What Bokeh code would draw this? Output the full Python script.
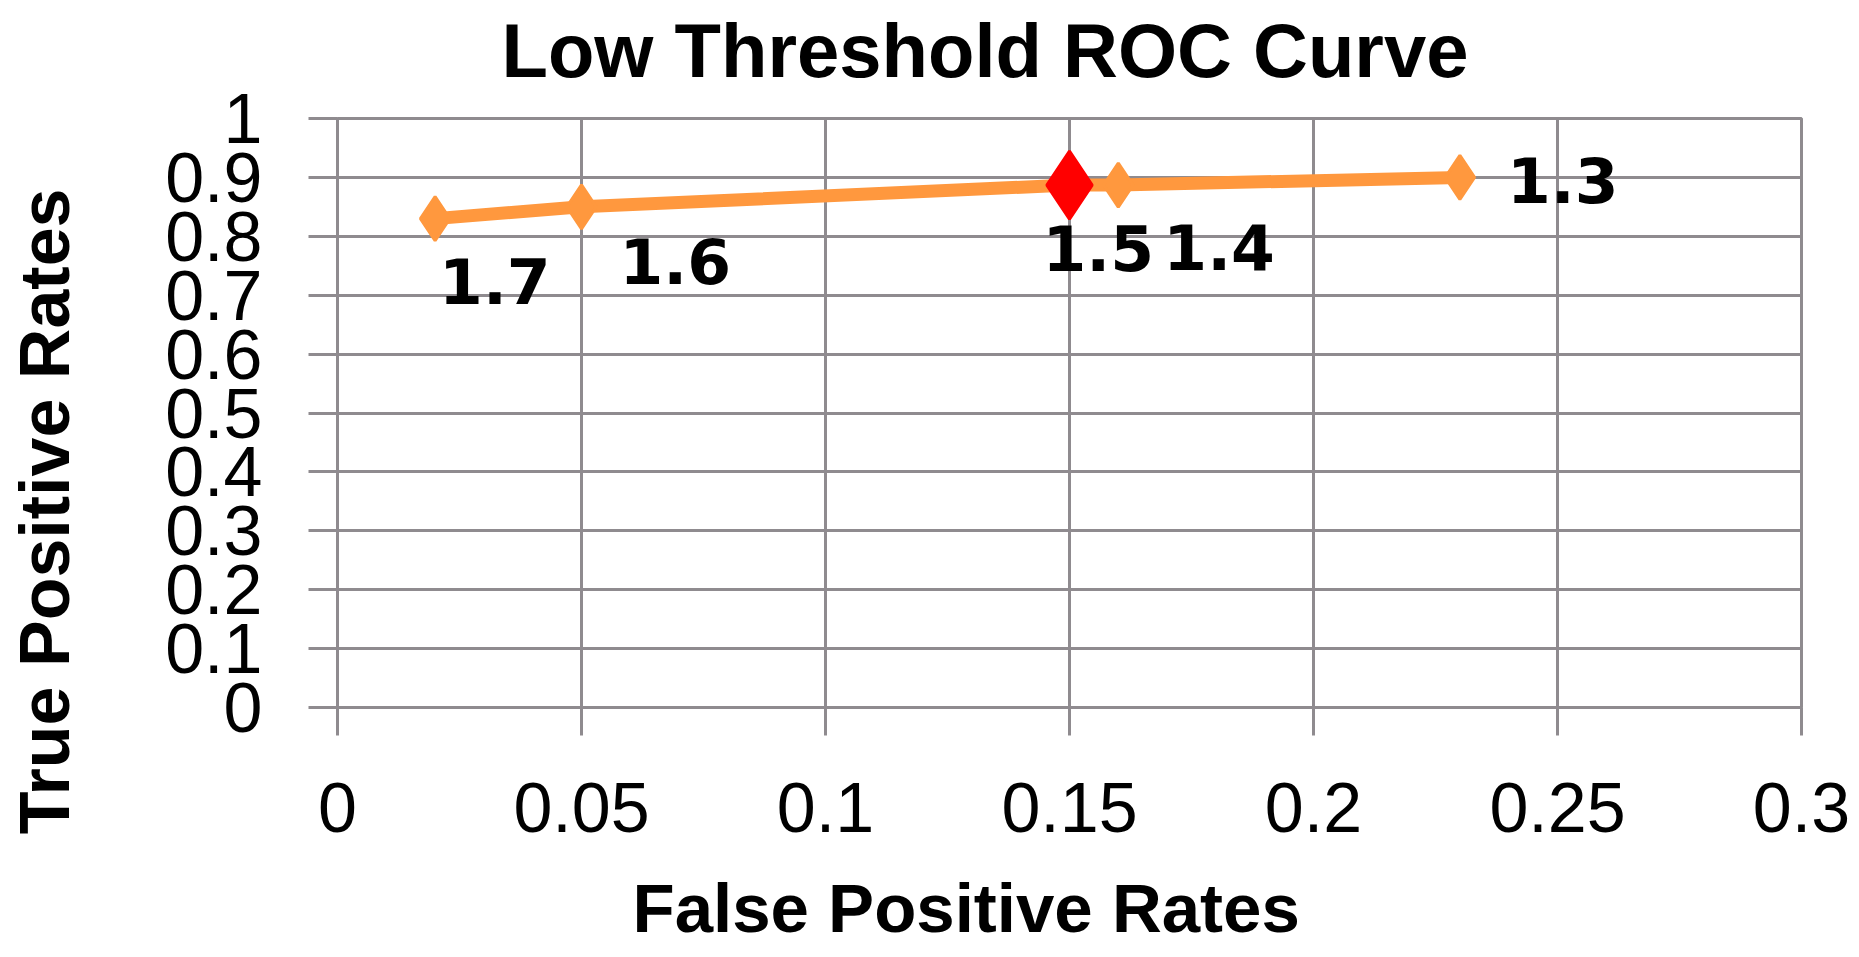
from bokeh.plotting import figure
from bokeh.models import Range1d, FixedTicker, Title, ColumnDataSource, LinearAxis
from bokeh.core.properties import value
from bokeh.embed import file_html
from bokeh.resources import INLINE

# ---- data ----
thresholds = ["1.7", "1.6", "1.5", "1.4", "1.3"]
fpr = [0.02, 0.05, 0.15, 0.16, 0.23]
tpr = [0.83, 0.85, 0.887, 0.887, 0.90]
highlight = 2  # threshold 1.5 drawn in red

x_ticks = [0, 0.05, 0.1, 0.15, 0.2, 0.25, 0.3]
x_tick_labels = ["0", "0.05", "0.1", "0.15", "0.2", "0.25", "0.3"]
y_ticks = [0, 0.1, 0.2, 0.3, 0.4, 0.5, 0.6, 0.7, 0.8, 0.9, 1]
y_tick_labels = ["0", "0.1", "0.2", "0.3", "0.4", "0.5", "0.6", "0.7", "0.8", "0.9", "1"]

title_text = "Low Threshold  ROC Curve"
x_title = "False Positive Rates"
y_title = "True Positive Rates"

# label placement (screen px offsets from each point)
label_dx = [4, 38, -27, 45, 47]
label_dy = [62, 54, 63, 62, 3]

ORANGE = "#FF983E"
RED = "#FF0000"
GRID = "#8F8B8F"

p = figure(width=1850, height=949, output_backend="svg", toolbar_location=None,
           x_range=Range1d(0, 0.3), y_range=Range1d(0, 1),
           min_border_left=337, min_border_right=49, min_border_top=118, min_border_bottom=242)
p.title = None
p.background_fill_color = "white"
p.border_fill_color = "white"
p.outline_line_color = GRID
p.outline_line_width = 3

for ax, ticks, labels in ((p.xaxis[0], x_ticks, x_tick_labels), (p.yaxis[0], y_ticks, y_tick_labels)):
    ax.ticker = FixedTicker(ticks=ticks)
    ax.major_label_overrides = {t: l for t, l in zip(ticks, labels)}
    ax.axis_line_color = GRID
    ax.axis_line_width = 3
    ax.major_tick_line_color = GRID
    ax.major_tick_line_width = 3
    ax.major_tick_in = 0
    ax.minor_tick_line_color = None
    ax.major_label_text_font = "Liberation Sans"
    ax.major_label_text_font_size = "70px"
    ax.major_label_text_color = "black"

p.xaxis.major_tick_out = 28
p.xaxis.major_label_standoff = 47
p.yaxis.major_tick_out = 29
p.yaxis.major_label_standoff = 46

p.xgrid.ticker = FixedTicker(ticks=x_ticks)
p.ygrid.ticker = FixedTicker(ticks=y_ticks)
for g in (p.xgrid[0], p.ygrid[0]):
    g.grid_line_color = GRID
    g.grid_line_width = 3

# line + markers
p.line(fpr, tpr, line_color=ORANGE, line_width=13)
p.scatter(fpr, tpr, marker="diamond", size=44, fill_color=ORANGE, line_color=ORANGE, line_width=3)
p.scatter([fpr[highlight]], [tpr[highlight]], marker="diamond", size=68,
          fill_color=RED, line_color=RED, line_width=3)

src = ColumnDataSource(dict(x=fpr, y=tpr, t=thresholds, dx=label_dx, dy=label_dy))
p.text(x="x", y="y", text="t", x_offset="dx", y_offset="dy", source=src,
       text_font=value("DejaVu Sans"), text_font_style="bold", text_font_size="63px",
       text_color="black", text_align="left", text_baseline="alphabetic")


def spacer(size):
    """invisible axis (one hidden tick, empty label) that only reserves space between panels"""
    return LinearAxis(ticker=FixedTicker(ticks=[0.1]), major_label_overrides={0.1: ""},
                      major_tick_out=size, major_tick_in=0, major_label_standoff=0,
                      axis_line_color=None, major_tick_line_color=None,
                      minor_tick_line_color=None, minor_tick_out=0, minor_tick_in=0,
                      major_label_text_font_size="1px")


# titles
p.add_layout(spacer(26), "above")
tt = Title(text=title_text, align="left", offset=164, vertical_align="bottom",
           text_font="Liberation Sans", text_font_style="bold", text_font_size="76px",
           text_color="black", standoff=0)
p.add_layout(tt, "above")

p.add_layout(spacer(33), "below")
xt = Title(text=x_title, align="left", offset=295, vertical_align="bottom",
           text_font="Liberation Sans", text_font_style="bold", text_font_size="69px",
           text_color="black", standoff=0)
p.add_layout(xt, "below")

p.add_layout(spacer(79), "left")
yt = Title(text=y_title, align="right", offset=70, vertical_align="bottom",
           text_font="Liberation Sans", text_font_style="bold", text_font_size="70px",
           text_color="black", standoff=0)
p.add_layout(yt, "left")

open("out.html", "w").write(file_html(p, INLINE))
